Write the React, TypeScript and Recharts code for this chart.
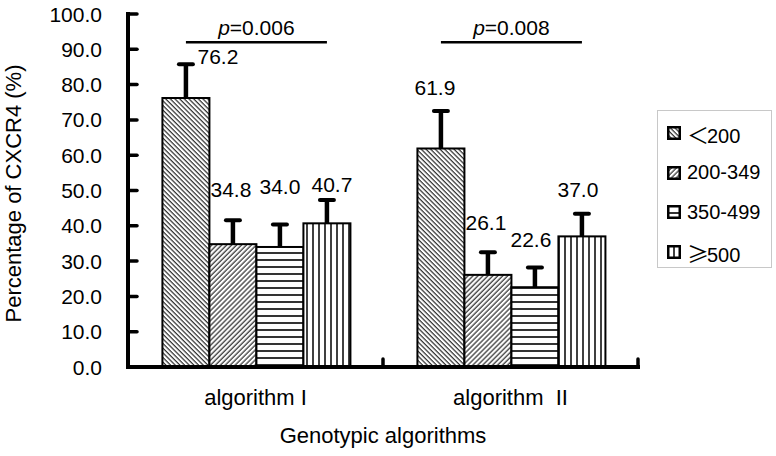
import React from 'react';
import { BarChart, Bar, XAxis, YAxis, Legend } from 'recharts';

const categories = ['algorithm I', 'algorithm  II'];
const seriesNames = ['＜200', '200-349', '350-499', '≥500'];
const lt200 = [76.2, 61.9];
const from200 = [34.8, 26.1];
const from350 = [34.0, 22.6];
const ge500 = [40.7, 37.0];
// upper error (SD), read from the caps
const lt200Err = [9.6, 10.6];
const from200Err = [6.8, 6.4];
const from350Err = [6.4, 5.6];
const ge500Err = [6.6, 6.4];
const pValues = ['0.006', '0.008'];
const pLevel = 92;
const yTicks = [0, 10, 20, 30, 40, 50, 60, 70, 80, 90, 100];

const keys = ['s0', 's1', 's2', 's3'];
const seriesValues = [lt200, from200, from350, ge500];
const seriesErrs = [lt200Err, from200Err, from350Err, ge500Err];

const data = categories.map((name, i) => {
  const row: Record<string, any> = { name };
  keys.forEach((k, s) => {
    row[k] = seriesValues[s][i];
    row[k + 'Err'] = seriesErrs[s][i];
  });
  return row;
});

const FONT = "'Liberation Sans', Arial, 'Noto Sans CJK SC', sans-serif";
const CJK = "'Noto Sans CJK SC', sans-serif";

// label placement relative to the error cap: [dx, dy] per series / category
const labelNudge = [
  [[32, -8], [-6, -24]],
  [[-2, -31], [-2, -30]],
  [[0, -38], [-4, -28]],
  [[5, -16], [-4, -24]],
];

const makeShape = (s: number) => (props: any) => {
  const { x, y, width, height, index, payload } = props;
  const v = payload[keys[s]];
  const err = payload[keys[s] + 'Err'];
  const unit = height / v;
  const base = y + height;
  const cx = x + width / 2;
  const capY = y - err * unit;
  const [dx, dy] = labelNudge[s][index];
  const last = s === keys.length - 1;
  const left = cx - (keys.length - 1) * width;
  const by = base - pLevel * unit;
  return (
    <g>
      <rect x={x} y={y} width={width} height={height} fill={`url(#pat${s})`} stroke="#000" strokeWidth={2} />
      <line x1={cx} x2={cx} y1={y} y2={capY} stroke="#000" strokeWidth={4.5} />
      <line x1={cx - 7} x2={cx + 7} y1={capY} y2={capY} stroke="#000" strokeWidth={4} strokeLinecap="round" />
      <text x={cx + dx} y={capY + dy} dy="0.36em" textAnchor="middle" fontSize={21} fontFamily={FONT} fill="#000">
        {v.toFixed(1)}
      </text>
      {last && (
        <g>
          <line x1={left} x2={cx} y1={by} y2={by} stroke="#000" strokeWidth={2.5} />
          <text x={(left + cx) / 2} y={by - 7.5} textAnchor="middle" fontSize={21} fontFamily={FONT} fill="#000">
            <tspan fontStyle="italic">p</tspan>={pValues[index]}
          </text>
        </g>
      )}
    </g>
  );
};

const YTick = (props: any) => {
  const { x, y, payload } = props;
  return (
    <g>
      <line x1={x} x2={x + 9} y1={y} y2={y} stroke="#000" strokeWidth={3.5} strokeLinecap="round" />
      <text x={x - 26} y={y} dy="0.36em" textAnchor="end" fontSize={21} fontFamily={FONT} fill="#000">
        {Number(payload.value).toFixed(1)}
      </text>
    </g>
  );
};

const XTick = (props: any) => {
  const { x, y, payload } = props;
  const off = payload.offset ?? 0;
  return (
    <g>
      <line x1={x + off} x2={x + off} y1={y} y2={y - 8} stroke="#000" strokeWidth={3.5} strokeLinecap="round" />
      <text x={x} y={y + 38} textAnchor="middle" fontSize={22} fontFamily={FONT} fill="#000" style={{ whiteSpace: 'pre' }}>
        {payload.value}
      </text>
    </g>
  );
};

const LegendLabel = ({ text }: { text: string }) => {
  const sym = /^[＜≥]/.test(text);
  if (!sym) return <span>{text}</span>;
  return (
    <span>
      <span style={{ fontFamily: CJK, fontSize: 22, display: 'inline-block', width: 20, textAlign: 'center' }}>{text[0]}</span>
      {text.slice(1)}
    </span>
  );
};

const LegendBox = () => (
  <div
    style={{
      border: '1px solid #c8c8c8',
      background: '#fff',
      height: 158,
      boxSizing: 'border-box',
      padding: '2.5px 0 0 9px',
      fontFamily: FONT,
      fontSize: 20,
      color: '#000',
    }}
  >
    {seriesNames.map((n, i) => (
      <div key={n} style={{ display: 'flex', alignItems: 'center', height: 39.5 }}>
        <svg width={14} height={14} style={{ marginRight: 6, flex: 'none' }}>
          <rect x={1.25} y={1.25} width={11.5} height={11.5} fill={`url(#pat${i})`} stroke="#000" strokeWidth={2.5} />
        </svg>
        <LegendLabel text={n} />
      </div>
    ))}
  </div>
);

const axisStyle = { stroke: '#000', strokeWidth: 4, strokeLinecap: 'square' as const };

export default function App() {
  return (
    <div style={{ position: 'absolute', left: 0, top: 0, width: 776, height: 456, background: '#fff' }}>
      <BarChart
        width={776}
        height={456}
        data={data}
        margin={{ top: 14, right: 138, bottom: 0, left: 0 }}
        barCategoryGap="13.5%"
        barGap={0}
      >
        <defs>
          <pattern id="pat0" patternUnits="userSpaceOnUse" width={3.3} height={10} patternTransform="rotate(-45)">
            <rect width={3.3} height={10} fill="#fff" />
            <line x1={1} y1={0} x2={1} y2={10} stroke="#000" strokeWidth={1} />
          </pattern>
          <pattern id="pat1" patternUnits="userSpaceOnUse" width={3.5} height={10} patternTransform="rotate(45)">
            <rect width={3.5} height={10} fill="#fff" />
            <line x1={1} y1={0} x2={1} y2={10} stroke="#000" strokeWidth={1} />
          </pattern>
          <pattern id="pat2" patternUnits="userSpaceOnUse" width={10} height={7}>
            <rect width={10} height={7} fill="#fff" />
            <line x1={0} y1={1} x2={10} y2={1} stroke="#000" strokeWidth={1.6} />
          </pattern>
          <pattern id="pat3" patternUnits="userSpaceOnUse" width={6} height={10}>
            <rect width={6} height={10} fill="#fff" />
            <line x1={1} y1={0} x2={1} y2={10} stroke="#000" strokeWidth={1.5} />
          </pattern>
        </defs>
        <XAxis
          dataKey="name"
          height={89}
          tickSize={0}
          tickMargin={0}
          tickLine={false}
          axisLine={axisStyle}
          tick={XTick}
          interval={0}
          label={{
            content: (p: any) => {
              const vb = p.viewBox;
              return (
                <text x={vb.x + vb.width / 2} y={vb.y + vb.height - 13} textAnchor="middle" fontSize={22} fontFamily={FONT} fill="#000">
                  Genotypic algorithms
                </text>
              );
            },
          }}
        />
        <YAxis
          type="number"
          domain={[0, 100]}
          ticks={yTicks}
          width={128}
          tickSize={0}
          tickMargin={0}
          tickLine={false}
          axisLine={axisStyle}
          tick={YTick}
          interval={0}
          label={{
            content: (p: any) => {
              const vb = p.viewBox;
              const cx = vb.x + 21;
              const cy = vb.y + vb.height / 2 + 3;
              return (
                <text x={cx} y={cy} transform={`rotate(-90, ${cx}, ${cy})`} textAnchor="middle" fontSize={22} fontFamily={FONT} fill="#000">
                  Percentage of CXCR4 (%)
                </text>
              );
            },
          }}
        />
        <Legend
          layout="vertical"
          align="center"
          verticalAlign="middle"
          wrapperStyle={{ left: 657, top: 110, width: 115 }}
          content={LegendBox}
        />
        {keys.map((k, s) => (
          <Bar key={k} dataKey={k} name={seriesNames[s]} shape={makeShape(s)} isAnimationActive={false} />
        ))}
      </BarChart>
    </div>
  );
}
